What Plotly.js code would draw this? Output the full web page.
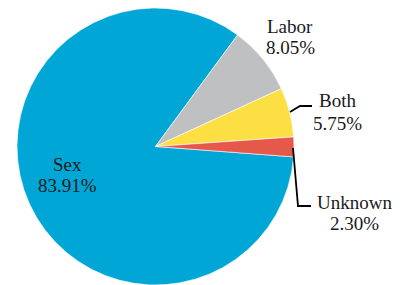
<!DOCTYPE html>
<html><head><meta charset="utf-8">
<script src="https://cdn.plot.ly/plotly-3.0.1.min.js"></script>
<style>html,body{margin:0;padding:0;background:#fff;}#chart{width:404px;height:285px;}</style>
</head><body><div id="chart"></div>
<script>
const categories = ["Sex", "Labor", "Both", "Unknown"];
const shares = [83.91, 8.05, 5.75, 2.30];
const colors = ["#00A7D6", "#BFC0C2", "#FCDF42", "#E5584A"];

const W = 404, H = 285;
const fx = p => p / W, fy = p => 1 - p / H;
const font = {family: "Liberation Serif, Times New Roman, serif", size: 19, color: "#1a1a1a"};

// label anchor centers (pixel) for each category: [x, yLine1, yLine2]
const labelPos = [[67, 164, 185], [290, 26, 48], [337, 100, 123], [354, 202, 223]];
const annotations = [];
categories.forEach((c, i) => {
  const [x, y1, y2] = labelPos[i];
  annotations.push({xref: "paper", yref: "paper", x: fx(x), y: fy(y1), text: c, showarrow: false, font, xanchor: "center", yanchor: "middle"});
  annotations.push({xref: "paper", yref: "paper", x: fx(x), y: fy(y2), text: shares[i].toFixed(2) + "%", showarrow: false, font, xanchor: "center", yanchor: "middle"});
});

const leader = pts => ({type: "path", xref: "paper", yref: "paper",
  path: "M" + pts.map(p => fx(p[0]) + "," + fy(p[1])).join(" L"),
  line: {color: "#000", width: 1.8}});

const data = [{
  type: "pie",
  labels: categories,
  values: shares,
  sort: false,
  direction: "clockwise",
  rotation: 94.3,
  textinfo: "none",
  hoverinfo: "label+percent",
  marker: {colors: colors, line: {color: "#ffffff", width: 0.6}},
  domain: {x: [17 / W, 294 / W], y: [0, 1 - 8 / H]},
  showlegend: false
}];

const layout = {
  width: W, height: H,
  margin: {l: 0, r: 0, t: 0, b: 0},
  paper_bgcolor: "#fff",
  showlegend: false,
  annotations: annotations,
  shapes: [leader([[290, 112], [300, 106], [312, 106]]), leader([[293, 148], [298, 206], [311, 206]])]
};
Plotly.newPlot("chart", data, layout, {displayModeBar: false, staticPlot: true});
</script></body></html>
